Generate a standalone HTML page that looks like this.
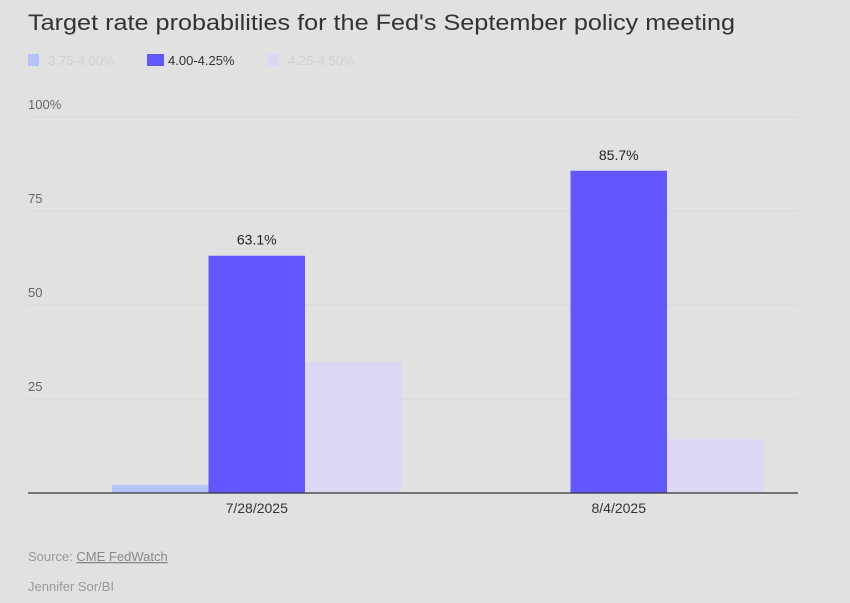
<!DOCTYPE html>
<html><head><meta charset="utf-8"><style>
html,body{margin:0;padding:0;background:#e1e1e1;}
body{width:850px;height:603px;overflow:hidden;font-family:"Liberation Sans",sans-serif;position:relative;}
</style></head><body>
<svg width="850" height="603" viewBox="0 0 850 603" id="chart" style="position:absolute;left:0;top:0">
<rect width="850" height="603" fill="#e1e1e1"/>
<text x="28" y="30" font-size="22.5" fill="#333" textLength="707" lengthAdjust="spacingAndGlyphs">Target rate probabilities for the Fed's September policy meeting</text>
<g>
<g><rect x="28" y="54" width="11" height="12" fill="#b4c4fa"/><text x="48" y="65" font-size="13" fill="#d0d0d4">3.75-4.00%</text></g>
<g><rect x="147" y="54" width="17" height="12" fill="#6257ff"/><text x="168" y="65" font-size="13" fill="#333">4.00-4.25%</text></g>
<g><rect x="268" y="54" width="11" height="12" fill="#ddd6f5"/><text x="288" y="65" font-size="13" fill="#d0d0d4">4.25-4.50%</text></g>
</g>
<g id="grid"></g><g id="bars"></g><g id="labels"></g>
<line x1="28" x2="798" y1="493" y2="493" stroke="#333" stroke-width="1.3"/>
<text x="28" y="561" font-size="13" fill="#999">Source: <tspan text-decoration="underline" fill="#888">CME FedWatch</tspan></text>
<text x="28" y="591" font-size="13" fill="#999">Jennifer Sor/BI</text>
</svg>
<script>
const categories=["7/28/2025","8/4/2025"];
const s375=[2.1,0];
const s400=[63.1,85.7];
const s425=[34.8,14.3];
const yTicks=[0,25,50,75,100];
const yTickLabels=["","25","50","75","100%"];
const NS="http://www.w3.org/2000/svg";
const y=v=>493-v*3.76;
const groupStart=[112,474];
const bw=96.5;
const colors=["#b4c4fa","#6257ff","#ddd6f5"];
const series=[s375,s400,s425];
const seriesNames=["3-75","4-00","4-25"];
function mk(tag,attrs,parent){const e=document.createElementNS(NS,tag);for(const k in attrs)e.setAttribute(k,attrs[k]);document.getElementById(parent).appendChild(e);return e;}
yTicks.forEach((t,i)=>{
 if(t>0){const l=mk('line',{x1:28,x2:798,y1:y(t),y2:y(t),stroke:'#d8d8d8','stroke-width':1},'grid');
 
 }
 const tx=mk('text',{x:28,y:y(t)-8,'font-size':13,fill:'#666'},'grid');tx.textContent=yTickLabels[i];
 
 
});
categories.forEach((c,ci)=>{
 series.forEach((s,si)=>{
  if(s[ci]<=0)return;
  const x=groupStart[ci]+si*bw;
  const r=mk('rect',{x:x,y:y(s[ci]),width:bw,height:493-y(s[ci]),fill:colors[si]},'bars');
  
  
  if(si===1){const v=mk('text',{x:x+bw/2,y:y(s[ci])-11,'font-size':14,fill:'#222','text-anchor':'middle'},'labels');v.textContent=s[ci].toFixed(1)+'%';
  
  }
 });
 const cx=groupStart[ci]+bw*1.5;
 const lab=mk('text',{x:cx,y:513,'font-size':14,fill:'#333','text-anchor':'middle'},'labels');lab.textContent=c;
 
 
});
</script>
</body></html>
